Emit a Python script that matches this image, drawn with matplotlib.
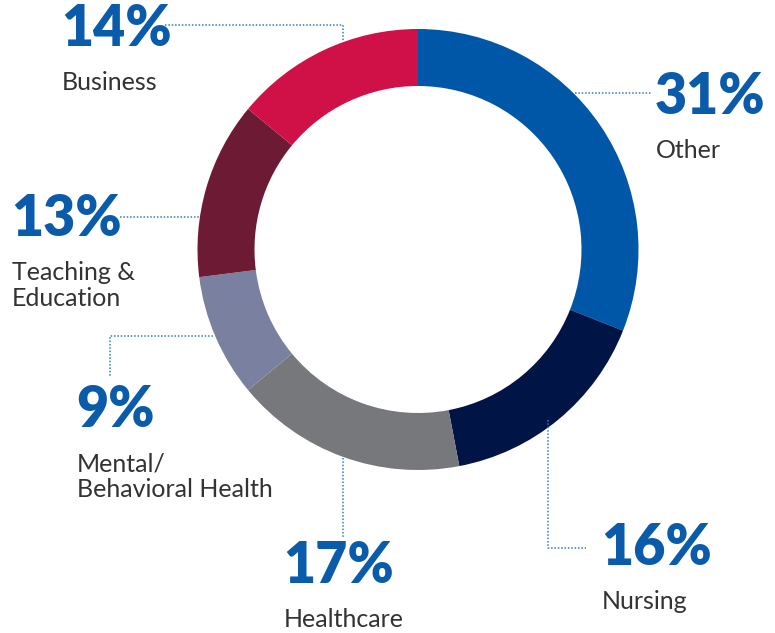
import matplotlib.pyplot as plt

# data
labels = ['Other', 'Nursing', 'Healthcare', 'Mental/\nBehavioral Health', 'Teaching &\nEducation', 'Business']
shares = [31, 16, 17, 9, 13, 14]
colors = ['#0057A8', '#001446', '#77787C', '#7A80A0', '#6D1A35', '#D01148']

W, H = 775, 633
cx, cy, R, ring = 418, 249.5, 220.5, 57

fig = plt.figure(figsize=(W / 100, H / 100), dpi=100)
ax = fig.add_axes([0, 0, 1, 1])

# y axis is inverted below: -90 points up on screen, counterclock=True runs clockwise on screen
ax.pie(shares, colors=colors, startangle=-90, counterclock=True,
       radius=R, center=(cx, cy), frame=True,
       wedgeprops=dict(width=ring, linewidth=0))
ax.set_xlim(0, W)
ax.set_ylim(H, 0)
ax.set_aspect('equal')
ax.axis('off')

# label positions (percent left x, percent center y) - layout only
pos = {
    'Other': (655, 97),
    'Nursing': (601, 548),
    'Healthcare': (283, 566),
    'Mental/\nBehavioral Health': (76, 410),
    'Teaching &\nEducation': (11, 219),
    'Business': (61, 29),
}

blue = '#0A5BAA'
for lab, val in zip(labels, shares):
    x, y = pos[lab]
    ax.text(x, y, '%d%%' % val, color=blue, fontsize=40, fontweight='heavy',
            family='Lato', ha='left', va='center')
    ax.text(x + 1, y + 42, lab, color='#333333', fontsize=18, family='Lato',
            ha='left', va='top', linespacing=1.15)

# dotted leader lines
lk = dict(color='#2F7CC8', lw=1.1, ls=(0, (1, 1.2)))
ax.plot([165, 343, 343], [25, 25, 42], **lk)
ax.plot([575, 652], [93, 93], **lk)
ax.plot([120, 200], [217, 217], **lk)
ax.plot([213, 110, 110], [336, 336, 377], **lk)
ax.plot([343, 343], [458, 537], **lk)
ax.plot([548, 548, 586], [420, 548, 548], **lk)

fig.savefig('out.png', dpi=100)
